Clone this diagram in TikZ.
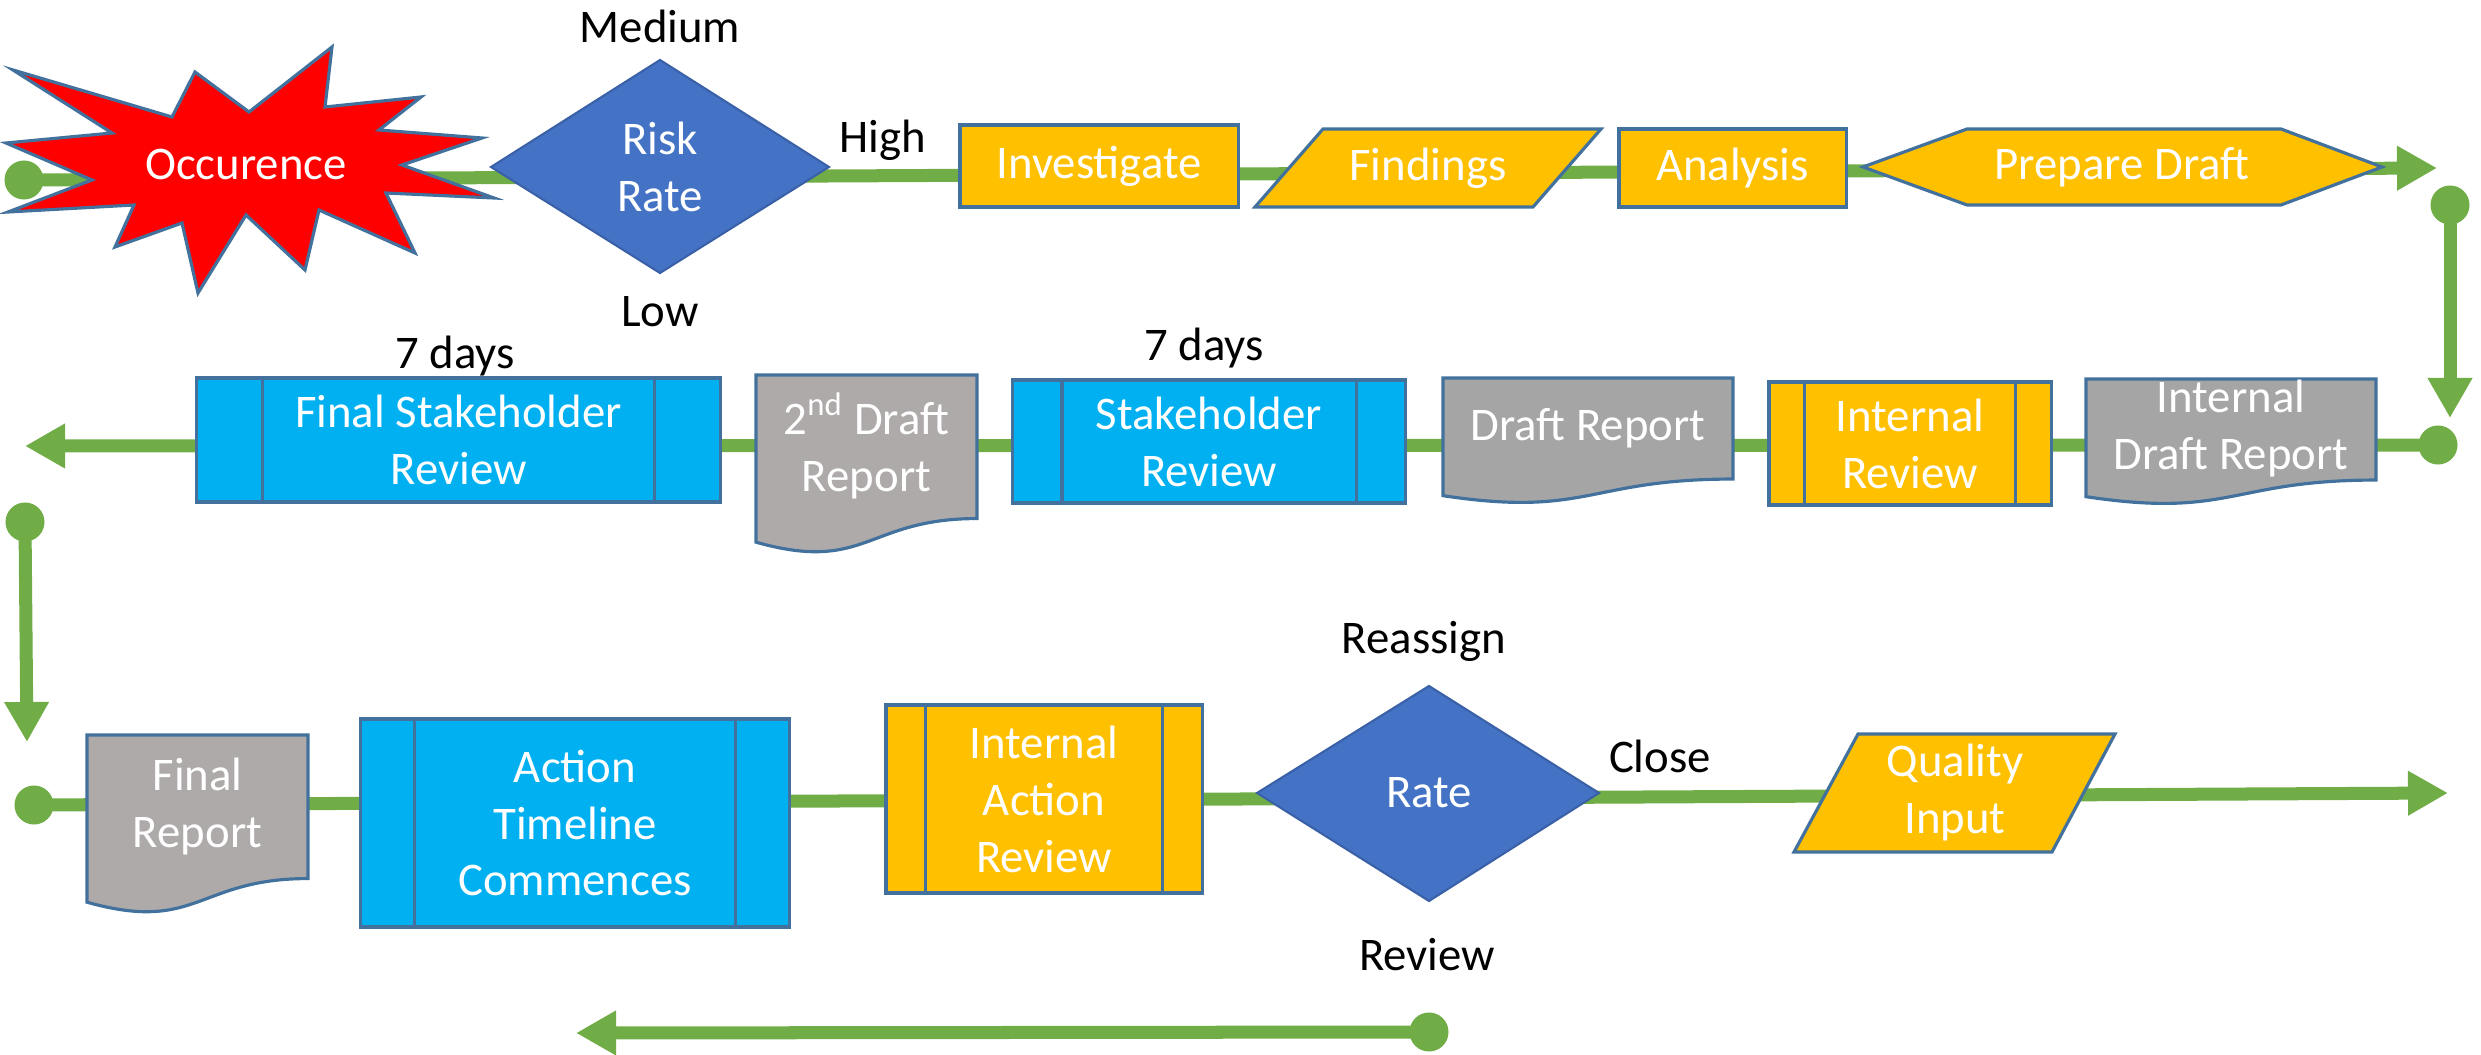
\documentclass[tikz,border=0pt]{standalone}
\usepackage{fontspec}
\setmainfont{Carlito}
\usetikzlibrary{arrows.meta,backgrounds,calc}
\definecolor{flowgreen}{HTML}{70AD47}
\definecolor{bord}{HTML}{41719C}
\definecolor{dia}{HTML}{4472C4}
\definecolor{gold}{HTML}{FFC000}
\definecolor{sky}{HTML}{00B0F0}
\definecolor{grayA}{HTML}{A5A5A5}
\definecolor{grayB}{HTML}{AEAAAA}
\definecolor{burst}{HTML}{FF0000}
\newcommand\dfont{\fontsize{13.3}{16.2}\selectfont}
\newcommand\innerbars[1]{\draw[shp] ($(#1.north west)!0.125!(#1.north east)$) -- ($(#1.south west)!0.125!(#1.south east)$) ($(#1.north west)!0.875!(#1.north east)$) -- ($(#1.south west)!0.875!(#1.south east)$);}
\newcommand\docshp[5]{\filldraw[shp, fill=#5] (#1,#2) -- ({#1+#3},#2) -- ({#1+#3},{#2+0.802*#4}) .. controls ({#1+0.5*#3},{#2+0.802*#4}) and ({#1+0.5*#3},{#2+1.1075*#4}) .. (#1,{#2+0.934*#4}) -- cycle;}
\tikzset{
  flowline/.style={draw=flowgreen, line width=0.13cm, -{Triangle[length=0.4cm,width=0.42cm]}},
  dotnode/.style={circle, fill=flowgreen, minimum size=0.39cm, inner sep=0pt},
  shp/.style={draw=bord, line width=0.9pt, line join=miter},
  boxnode/.style={shp, rectangle, inner sep=0pt, outer sep=0pt, text=white, align=center, font=\dfont},
  txt/.style={text=white, align=center, font=\dfont, inner sep=0pt},
  lbl/.style={text=black, align=center, font=\dfont, inner sep=0pt},
}
\begin{document}
\begin{tikzpicture}[x=0.01cm,y=-0.01cm]
\useasboundingbox (0,0) rectangle (2481,1055);

% ---------- Row 1 ----------
\node[dotnode] (dot1) at (24,180) {};
\filldraw[shp, fill=burst] (13,70) -- (172,117) -- (195,72) -- (249,112) -- (332,47) -- (325,107) -- (421,97) -- (379,130) -- (482,138) -- (402,165) -- (494,198) -- (386,193) -- (415,253) -- (319,210) -- (305,270) -- (246,215) -- (198,293) -- (182,223) -- (115,247) -- (134,205) -- (8,212) -- (92,180) -- (6,143) -- (112,133) -- cycle;
\node[txt] (occ) at (246,165) {Occurence};

\filldraw[shp, fill=dia, draw=dia!85!black, line width=0.6pt] (491,167) -- (660,60) -- (829,167) -- (660,273) -- cycle;
\node[txt] (risk) at (660,167) {Risk\\Rate};
\node[lbl] (medium) at (660,26) {Medium};
\node[lbl] (low) at (660,312) {Low};
\node[lbl] (high) at (883,140) {High};

\node[boxnode, fill=gold, minimum width=2.78cm, minimum height=0.82cm] (inv) at (1099,166) {Investigate};
\filldraw[shp, fill=gold] (1323,129) -- (1601,129) -- (1533,207) -- (1255,207) -- cycle;
\node[txt] (find) at (1428,168) {Findings};
\node[boxnode, fill=gold, minimum width=2.27cm, minimum height=0.78cm] (ana) at (1732.5,168) {Analysis};
\filldraw[shp, fill=gold] (1863,167) -- (1967,129) -- (2281,129) -- (2382,167) -- (2281,205) -- (1967,205) -- cycle;
\node[txt] (prep) at (2122,167) {Prepare Draft};
\coordinate (end1) at (2437,168);

% right vertical
\node[dotnode] (dotR) at (2450,205) {};
\coordinate (endR) at (2450,418);

% ---------- Row 2 ----------
\node[dotnode] (dot2) at (2438,445) {};
\coordinate (end2) at (25,446);

\node[boxnode, fill=sky, minimum width=5.23cm, minimum height=1.24cm] (fsr) at (458.5,440) {Final Stakeholder\\Review};
\innerbars{fsr}
\node[lbl] (days1) at (455,356) {7 days};

\docshp{756}{375}{221}{179}{grayB}
\node[txt] (draft2) at (866.5,446) {2\textsuperscript{nd} Draft\\Report};

\node[boxnode, fill=sky, minimum width=3.92cm, minimum height=1.23cm] (sr) at (1209,441.5) {Stakeholder\\Review};
\innerbars{sr}
\node[lbl] (days2) at (1204,348) {7 days};

\docshp{1443}{378}{290}{126}{grayA}
\node[txt] (dr) at (1588,428) {Draft Report};

\node[boxnode, fill=gold, minimum width=2.82cm, minimum height=1.23cm] (ir) at (1910,443.5) {Internal\\Review};
\innerbars{ir}

\docshp{2086}{379}{290}{126}{grayA}
\node[txt] (idr) at (2231,429) {Internal\\Draft Report};

% left vertical
\node[dotnode] (dotL) at (25,522) {};
\coordinate (endL) at (27,742);

% ---------- Row 3 ----------
\node[dotnode] (dot3) at (34,805) {};
\coordinate (end3) at (2448,793);

\docshp{87}{735}{221}{179}{grayB}
\node[txt] (fr) at (197.5,807) {Final\\Report};

\node[boxnode, fill=sky, minimum width=4.28cm, minimum height=2.08cm] (atc) at (575,823) {Action\\Timeline\\Commences};
\innerbars{atc}

\node[boxnode, fill=gold, minimum width=3.16cm, minimum height=1.88cm] (iar) at (1044,799) {Internal\\Action\\Review};
\innerbars{iar}

\filldraw[shp, fill=dia, draw=dia!85!black, line width=0.6pt] (1257,793) -- (1429,686) -- (1599,793) -- (1429,901) -- cycle;
\node[txt] (rate) at (1429,793) {Rate};
\node[lbl] (reassign) at (1424,641) {Reassign};
\node[lbl] (review) at (1427,955) {Review};
\node[lbl] (close) at (1660,756) {Close};

\filldraw[shp, fill=gold] (1858,734) -- (2115,734) -- (2052,852) -- (1794,852) -- cycle;
\node[txt] (qi) at (1955,793) {Quality\\Input};

% bottom return arrow
\node[dotnode] (dot4) at (1429,1032) {};
\coordinate (end4) at (576,1033);

% ---------- connectors ----------
\begin{scope}[on background layer]
\draw[flowline] (dot1.center) -- (end1);
\draw[flowline] (dotR.center) -- (endR);
\draw[flowline] (dot2.center) -- (end2);
\draw[flowline] (dotL.center) -- (endL);
\draw[flowline] (dot3.center) -- (end3);
\draw[flowline] (dot4.center) -- (end4);
\end{scope}
\end{tikzpicture}
\end{document}
